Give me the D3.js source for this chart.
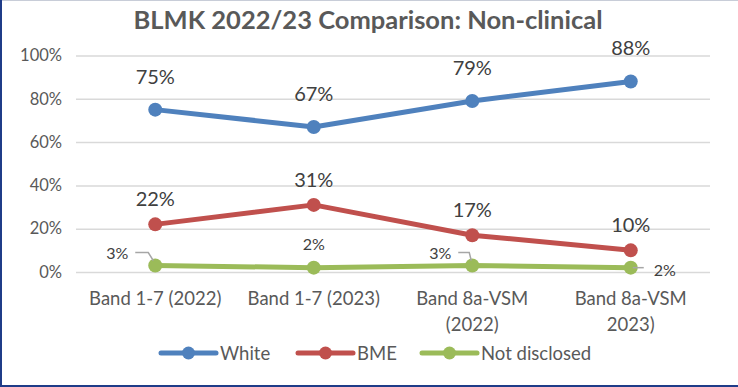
<!DOCTYPE html>
<html><head><meta charset="utf-8">
<script src="https://cdn.jsdelivr.net/npm/d3@7"></script>
<style>html,body{margin:0;padding:0;background:#fff;}svg{display:block;font-family:Lato,"Open Sans",sans-serif;}</style>
</head><body>
<script>
const categories = [["Band 1-7 (2022)"], ["Band 1-7 (2023)"], ["Band 8a-VSM", "(2022)"], ["Band 8a-VSM", "2023)"]];
const seriesNames = ["White", "BME", "Not disclosed"];
const white = [75, 67, 79, 88];
const bme = [22, 31, 17, 10];
const notDisclosed = [3, 2, 3, 2];
const yTicks = [0, 20, 40, 60, 80, 100];
const colors = ["#4F81BD", "#C0504D", "#9BBB59"];

const W = 738, H = 387;
const svg = d3.select("body").append("svg").attr("width", W).attr("height", H);

// border
svg.append("line").attr("x1",0).attr("x2",W).attr("y1",0.5).attr("y2",0.5).attr("stroke","#c8cdd8");
svg.append("line").attr("x1",1).attr("x2",1).attr("y1",0).attr("y2",H).attr("stroke","#1f3c88").attr("stroke-width",2);
svg.append("line").attr("x1",0).attr("x2",W).attr("y1",H-1).attr("y2",H-1).attr("stroke","#1f3c88").attr("stroke-width",2);

svg.append("text").attr("x", 368).attr("y", 29).attr("text-anchor","middle")
  .attr("font-size", 25.5).attr("font-weight","bold").attr("fill","#595959")
  .text("BLMK 2022/23 Comparison: Non-clinical");

const x = d3.scaleBand().domain(d3.range(categories.length)).range([76, 710]);
const y = d3.scaleLinear().domain([0, 100]).range([272, 55.5]);
const cx = i => x(i) + x.bandwidth()/2;

// gridlines + y labels
const yAxis = d3.axisLeft(y).tickValues(yTicks).tickFormat(d => d + "%").tickSize(-(710-76)).tickPadding(14);
const ga = svg.append("g").attr("transform","translate(76,0)").call(yAxis);
ga.select(".domain").remove();
ga.selectAll(".tick line").attr("stroke","#d9d9d9").attr("stroke-width",1.5);
ga.selectAll(".tick text").attr("fill","#595959").attr("font-size",16.5).attr("font-family","Lato,'Open Sans',sans-serif");

// x labels
const xg = svg.append("g");
categories.forEach((lines, i) => {
  const t = xg.append("text").attr("x", cx(i)).attr("y", 305).attr("text-anchor","middle")
    .attr("font-size",18.5).attr("fill","#595959");
  lines.forEach((l, j) => t.append("tspan").attr("x", cx(i)).attr("dy", j ? 26 : 0).text(l));
});

const allSeries = [white, bme, notDisclosed];
const line = d3.line().x((d,i) => cx(i)).y(d => y(d));
allSeries.forEach((s, k) => {
  svg.append("path").datum(s).attr("d", line).attr("fill","none").attr("stroke", colors[k]).attr("stroke-width",5).attr("stroke-linejoin","round");
  svg.selectAll(null).data(s).enter().append("circle").attr("cx",(d,i)=>cx(i)).attr("cy",d=>y(d)).attr("r",7).attr("fill",colors[k]);
});

// data labels
const big = (s, off) => s.forEach((d,i) => svg.append("text").attr("x", cx(i)).attr("y", y(d) - off).attr("text-anchor","middle")
  .attr("font-size",20).attr("fill","#404040").text(d + "%"));
big(white, 26);
big(bme, 18);

// not disclosed labels with leaders
const nd = notDisclosed;
const lab = (txt, lx, ly, anchor) => svg.append("text").attr("x",lx).attr("y",ly).attr("text-anchor",anchor).attr("font-size",16).attr("fill","#404040").text(txt);
const leader = pts => svg.append("polyline").attr("points", pts.map(p=>p.join(",")).join(" ")).attr("fill","none").attr("stroke","#a6a6a6").attr("stroke-width",1.5);
lab(nd[0]+"%", cx(0)-27, y(nd[0]) - 7, "end");
leader([[cx(0)-20, y(nd[0])-13],[cx(0)-7, y(nd[0])-13],[cx(0)-2, y(nd[0])-5]]);
lab(nd[1]+"%", cx(1), y(nd[1]) - 18, "middle");
lab(nd[2]+"%", cx(2)-21, y(nd[2]) - 7, "end");
leader([[cx(2)-14, y(nd[2])-13],[cx(2)-3, y(nd[2])-13],[cx(2)-1, y(nd[2])-5]]);
lab(nd[3]+"%", cx(3)+23, y(nd[3]) + 8, "start");
leader([[cx(3)+2, y(nd[3])],[cx(3)+13, y(nd[3])]]);

// legend
const legX = [161, 298, 422];
seriesNames.forEach((n, k) => {
  const g = svg.append("g").attr("transform", `translate(${legX[k]},353)`);
  g.append("line").attr("x1",0).attr("x2",55).attr("stroke",colors[k]).attr("stroke-width",5).attr("stroke-linecap","round");
  g.append("circle").attr("cx",27.5).attr("r",6.5).attr("fill",colors[k]);
  g.append("text").attr("x",59).attr("y",6.5).attr("font-size",18.5).attr("fill","#595959").text(n);
});
</script>
</body></html>
